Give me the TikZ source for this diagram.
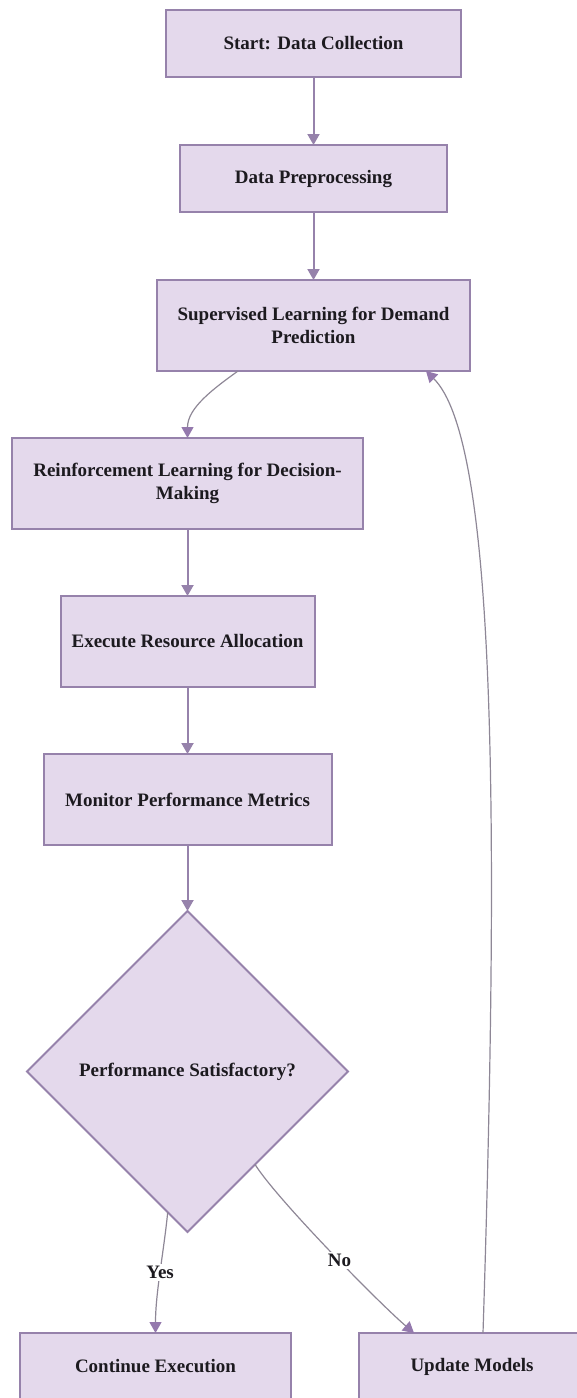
\documentclass[tikz,border=0pt]{standalone}
\usepackage{fontspec}
\setmainfont{Liberation Serif}
\usepackage{xcolor}
\definecolor{boxFill}{HTML}{E4D9EC}
\definecolor{boxBorder}{HTML}{9682AB}
\colorlet{colorFlow}{boxBorder}
\definecolor{colorCurve}{HTML}{8E8796}
\definecolor{colorTip}{HTML}{9479AD}
\definecolor{textDark}{HTML}{1C1A1F}
\newcommand{\flowfont}{\fontsize{19}{22.5}\selectfont\bfseries}
\usetikzlibrary{arrows.meta, positioning, shapes.geometric}
\tikzset{
  procbox/.style={draw=boxBorder, fill=boxFill, line width=2pt, align=center, inner sep=0pt, outer sep=0pt, minimum height=91pt, text=textDark},
  decision/.style={diamond, draw=boxBorder, fill=boxFill, line width=2pt, align=center, inner sep=0pt, outer sep=0pt, minimum width=321pt, minimum height=321pt, text=textDark},
  flow/.style={draw=colorFlow, line width=2pt, ->},
  curve/.style={draw=colorCurve, line width=1.2pt, -{Triangle[width=12pt, length=11pt, color=colorTip]}},
  lbl/.style={fill=white, inner sep=2pt, text=textDark}
}

\begin{document}
\begin{tikzpicture}[x=1pt, y=-1pt, >={Triangle[width=12pt, length=11pt]}, node distance=67pt, font=\flowfont]
\useasboundingbox (0,0) rectangle (576,1398);
\node[procbox, minimum width=295pt, minimum height=67pt] (collect) at (313.5,43.5) {Start: Data Collection};
\node[procbox, minimum width=267pt, minimum height=67pt, below=68pt of collect] (prep) {Data Preprocessing};
\node[procbox, minimum width=313pt, below=68pt of prep] (sup) {Supervised Learning for Demand\\Prediction};
\node[procbox, minimum width=351pt, below=of sup, xshift=-126pt] (rl) {Reinforcement Learning for Decision-\\Making};
\node[procbox, minimum width=254pt, below=of rl] (exec) {Execute Resource Allocation};
\node[procbox, minimum width=288pt, below=of exec] (mon) {Monitor Performance Metrics};
\node[decision, below=66pt of mon] (dec) {Performance Satisfactory?};
\node[procbox, minimum width=271pt, minimum height=67pt, below=101pt of dec, xshift=-32pt] (cont) {Continue Execution};
\node[procbox, minimum width=226pt, minimum height=67pt, right=68pt of cont] (upd) {Update Models};
% main line
\draw[flow] (collect) -- (prep);
\draw[flow] (prep) -- (sup);
\draw[curve] ([xshift=81pt]sup.south west) .. controls +(-25,18) and +(0,-30) .. (rl.north);
\draw[flow] (rl) -- (exec);
\draw[flow] (exec) -- (mon);
\draw[flow] (mon) -- (dec);
% decision
\draw[curve] (dec.-98) .. controls +(-4,40) and +(0,-40) .. (cont.north) node[lbl, pos=0.5] {Yes};
\draw[curve] (dec.-54) .. controls +(22,35) and +(-35,-30) .. ([xshift=55pt]upd.north west) node[lbl, pos=0.55] {No};
\draw[curve] ([xshift=11pt]upd.north) .. controls +(17,-534) and +(69,68) .. ([xshift=-44pt]sup.south east);
\end{tikzpicture}
\end{document}
